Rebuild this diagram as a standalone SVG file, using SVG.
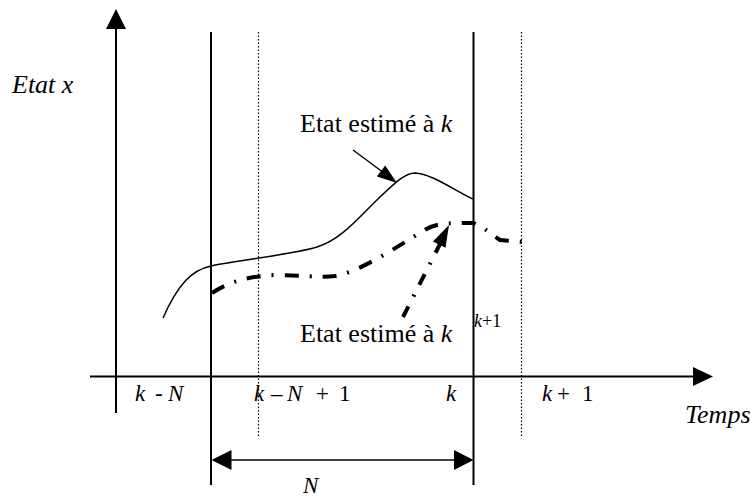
<svg xmlns="http://www.w3.org/2000/svg" width="755" height="497" viewBox="0 0 755 497">
<style>
.ax{stroke:#000;stroke-width:2;fill:none}
.dot{stroke:#000;stroke-width:1.2;stroke-dasharray:1.5 2;fill:none}
.thin{stroke:#000;stroke-width:1.5;fill:none}
.dd{stroke:#000;stroke-width:4;fill:none;stroke-dasharray:14 11 2 11}
.hd{fill:#000;stroke:none}
.big{font-size:26px}
.lab{font-size:23px}
.it{font-style:italic}
</style>
<rect width="755" height="497" fill="#fff"/>
<g id="axes">
<line class="ax" x1="116" y1="28" x2="116" y2="413"/>
<polygon class="hd" points="116,9 106,29 126,29"/>
<line class="ax" x1="90" y1="376.5" x2="694" y2="376.5"/>
<polygon class="hd" points="713,376.5 693,367 693,386"/>
</g>
<g id="window-lines">
<line class="ax" x1="211" y1="32" x2="211" y2="485"/>
<line class="ax" x1="473.5" y1="32" x2="473.5" y2="485"/>
<line class="dot" x1="258.5" y1="32" x2="258.5" y2="437"/>
<line class="dot" x1="521.5" y1="32" x2="521.5" y2="437"/>
</g>
<g id="curve-k">
<path class="thin" d="M163,318 C178,284 192,270 211,266 C240,260 295,254 317,247 C342,239 358,218 380,197 C395,183 405,173 415,173 C432,174 452,189 473,199"/>
</g>
<g id="curve-k1">
<path class="dd" d="M212,293 C230,281 250,276 276,275 C300,275 320,278 335,276 C360,272 400,245 423,231 C432,225 440,223 463,223 L473,223 C482,226 490,233 500,240 L522,242"/>
</g>
<g id="connectors">
<line class="thin" x1="353" y1="150" x2="384" y2="173"/>
<polygon class="hd" points="397,183 376.8,176.6 385.2,165.4"/>
<line class="dd" x1="403" y1="317" x2="441" y2="242" style="stroke-dasharray:12 11 2 11"/>
<polygon class="hd" points="449,225 445.5,247.8 432.9,241.6"/>
<line class="thin" x1="228" y1="460" x2="458" y2="460"/>
<polygon class="hd" points="211.5,460 231.5,450 231.5,470"/>
<polygon class="hd" points="473.5,460 454,450 454,470"/>
</g>
<g id="labels" font-family="'Liberation Serif', 'Times New Roman', serif" fill="#000">
<text class="big it" x="12" y="93">Etat x</text>
<text class="big it" x="685" y="423">Temps</text>
<text class="big" x="300" y="132">Etat estimé à <tspan class="it">k</tspan></text>
<text class="big" x="300" y="342">Etat estimé à <tspan class="it">k</tspan></text>
<text x="474" y="327" font-size="18"><tspan class="it">k</tspan>+1</text>
<text class="lab" y="401"><tspan class="it" x="135">k</tspan><tspan x="155">-</tspan><tspan class="it" x="168">N</tspan></text>
<text class="lab" y="401"><tspan class="it" x="254">k</tspan><tspan x="271">–</tspan><tspan class="it" x="287">N</tspan><tspan x="316">+</tspan><tspan x="339">1</tspan></text>
<text class="lab it" x="446" y="401">k</text>
<text class="lab" y="401"><tspan class="it" x="542">k</tspan><tspan x="557">+</tspan><tspan x="582">1</tspan></text>
<text class="lab it" x="303" y="493">N</text>
</g>
</svg>
